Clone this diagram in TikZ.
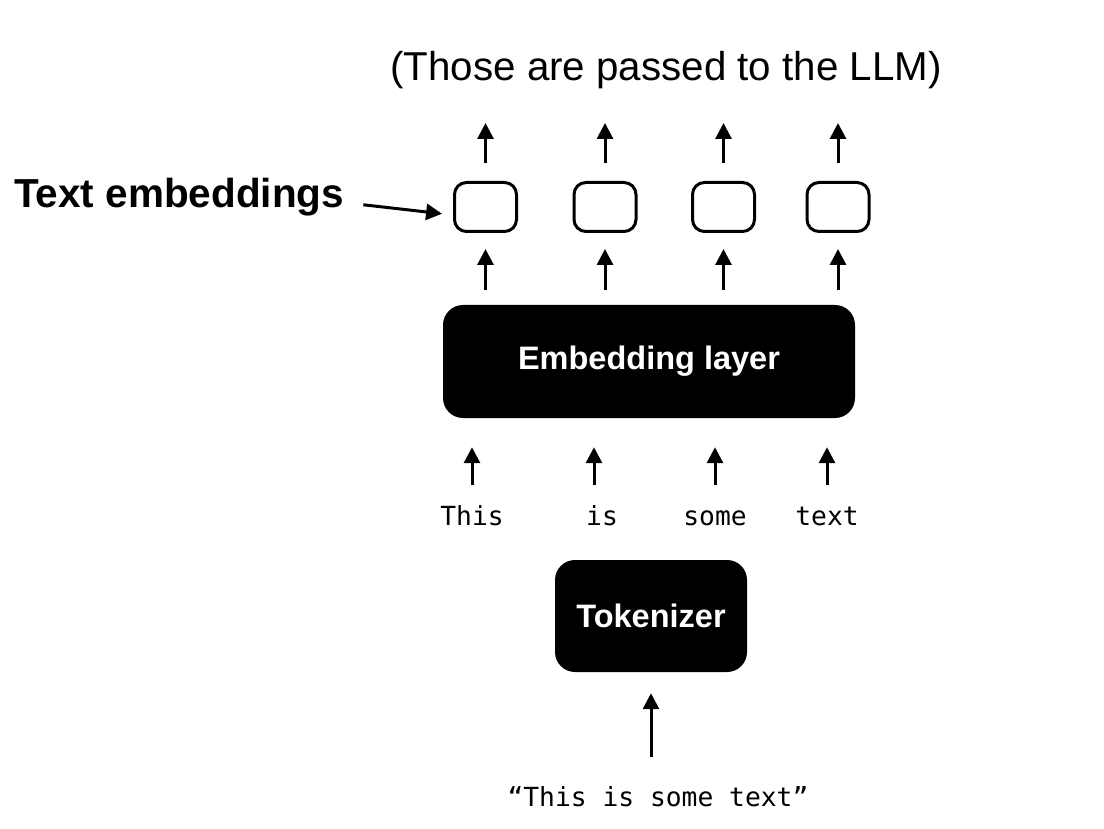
\documentclass[tikz,border=0pt]{standalone}
\usepackage{fontspec}
\setmainfont{Liberation Sans}
\setmonofont{DejaVu Sans Mono}
\usetikzlibrary{arrows.meta}

\begin{document}
\begin{tikzpicture}[x=1pt, y=-1pt,
		arr/.style={line width=3pt, -{Triangle[length=16pt,width=16pt]}},
		vecbox/.style={draw, line width=3pt, rounded corners=12pt, minimum width=62pt, minimum height=49pt, inner sep=0pt},
		blackbox/.style={fill=black, text=white, rounded corners=20pt, inner sep=0pt, font=\fontsize{32.5}{38}\selectfont\bfseries},
		tok/.style={inner sep=0pt, anchor=base, text height=19.5pt, text depth=5pt, font=\fontsize{26.3}{30}\selectfont\ttfamily}]
		%%%%% START %%%%%
		
		\useasboundingbox (0, 0) rectangle (1104, 829);
		
		\node[font=\fontsize{40.3}{48}\selectfont] (title) at (666, 70) {(Those are passed to the LLM)};
		\coordinate (top) at (0, 123);
		
		\node[vecbox] (emb1) at (485.5, 207) {};
		\node[vecbox] (emb2) at (605, 207) {};
		\node[vecbox] (emb3) at (723.5, 207) {};
		\node[vecbox] (emb4) at (838, 207) {};
		
		\node[anchor=base west, inner sep=0pt, font=\fontsize{40.5}{48}\selectfont\bfseries] (label) at (14, 208) {Text embeddings};
		\draw[arr, shorten <=19pt, shorten >=11pt] ([yshift=-5pt]label.east) -- ([yshift=-8pt]emb1.west);
		
		\draw[arr, shorten <=18pt] (emb1.north) -- (emb1.north |- top);
		\draw[arr, shorten <=18pt] (emb2.north) -- (emb2.north |- top);
		\draw[arr, shorten <=18pt] (emb3.north) -- (emb3.north |- top);
		\draw[arr, shorten <=18pt] (emb4.north) -- (emb4.north |- top);
		
		\node[blackbox, minimum width=412pt, minimum height=113pt] (layer) at (649, 361.5) {Embedding layer};
		
		\draw[arr, shorten <=15pt, shorten >=16pt] (layer.north -| emb1) -- (emb1.south);
		\draw[arr, shorten <=15pt, shorten >=16pt] (layer.north -| emb2) -- (emb2.south);
		\draw[arr, shorten <=15pt, shorten >=16pt] (layer.north -| emb3) -- (emb3.south);
		\draw[arr, shorten <=15pt, shorten >=16pt] (layer.north -| emb4) -- (emb4.south);
		
		\node[tok] (tok1) at (472, 525) {This};
		\node[tok] (tok2) at (602, 525) {is};
		\node[tok] (tok3) at (715, 525) {some};
		\node[tok] (tok4) at (827, 525) {text};
		
		\draw[arr, shorten <=20pt, shorten >=29pt] (tok1.north) -- (tok1.north |- layer.south);
		\draw[arr, shorten <=20pt, shorten >=29pt] ([xshift=-8pt]tok2.north) -- ([xshift=-8pt]tok2.north |- layer.south);
		\draw[arr, shorten <=20pt, shorten >=29pt] (tok3.north) -- (tok3.north |- layer.south);
		\draw[arr, shorten <=20pt, shorten >=29pt] (tok4.north) -- (tok4.north |- layer.south);
		
		\node[blackbox, minimum width=192pt, minimum height=112pt] (tokenizer) at (651, 616) {Tokenizer};
		
		\node[tok] (text) at (658, 806) {“This is some text”};
		\draw[arr, shorten <=29pt, shorten >=21pt] (text.north -| tokenizer) -- (tokenizer.south);
		
		%%%%% END %%%%%
	\end{tikzpicture}
\end{document}
